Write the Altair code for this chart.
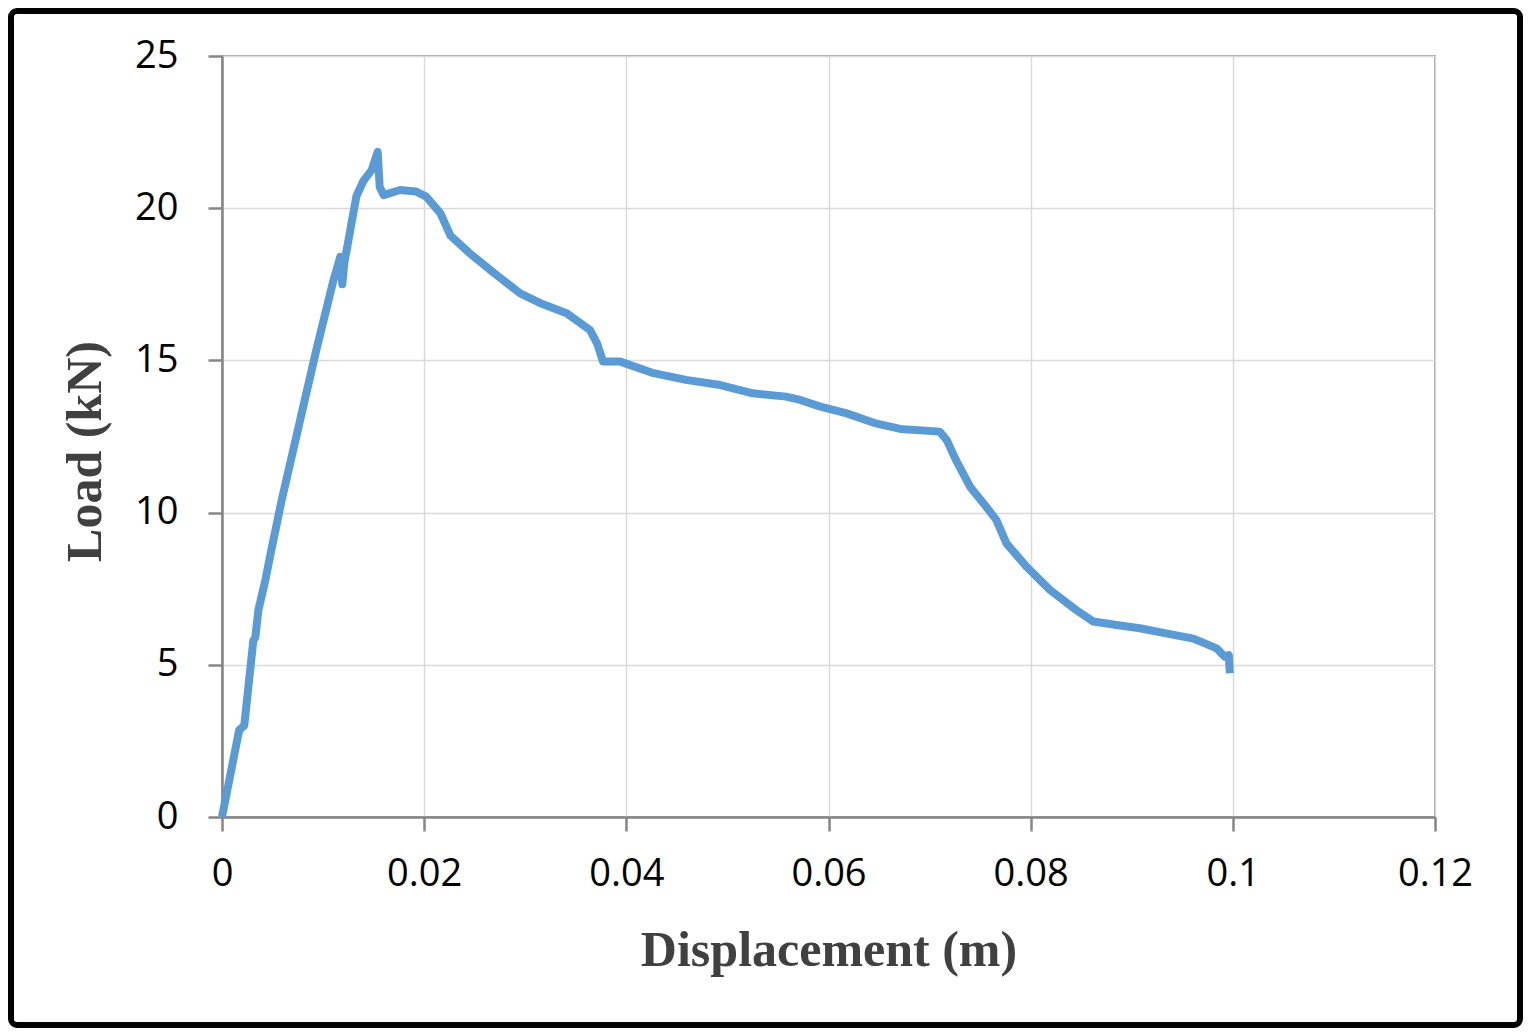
import altair as alt
import pandas as pd

displacement = [0, 0.0017, 0.0022, 0.0031, 0.0033, 0.0036, 0.0043, 0.0049, 0.0059,
                0.0077, 0.0093, 0.0110, 0.0117, 0.0119, 0.0121, 0.0133, 0.0140,
                0.0148, 0.0154, 0.0156, 0.0160, 0.0176, 0.0192, 0.0202, 0.0216,
                0.0226, 0.0245, 0.0268, 0.0295, 0.0315, 0.0341, 0.0364, 0.0371,
                0.0377, 0.0394, 0.0427, 0.0459, 0.0493, 0.0525, 0.0558, 0.0572,
                0.0592, 0.0618, 0.0647, 0.0671, 0.0710, 0.0717, 0.0726, 0.0740,
                0.0756, 0.0766, 0.0776, 0.0796, 0.0819, 0.0845, 0.0862, 0.0885,
                0.0908, 0.0934, 0.0961, 0.0984, 0.0992, 0.0996, 0.0997]
load = [0, 2.86, 3.0, 5.8, 5.9, 6.8, 7.8, 8.8, 10.4,
        13.0, 15.3, 17.6, 18.4, 17.5, 18.2, 20.4, 20.9,
        21.25, 21.85, 20.7, 20.43, 20.6, 20.55, 20.38, 19.84,
        19.1, 18.52, 17.9, 17.2, 16.88, 16.55, 16.0, 15.56,
        14.96, 14.96, 14.58, 14.36, 14.19, 13.92, 13.81, 13.7,
        13.48, 13.26, 12.93, 12.75, 12.66, 12.38, 11.73, 10.85,
        10.19, 9.76, 8.99, 8.22, 7.46, 6.8, 6.42, 6.31,
        6.2, 6.03, 5.86, 5.54, 5.27, 5.32, 4.72]

x_ticks = [0, 0.02, 0.04, 0.06, 0.08, 0.1, 0.12]
y_ticks = [0, 5, 10, 15, 20, 25]

df = pd.DataFrame({"d": displacement, "l": load, "i": list(range(len(load)))})

W, H = 1213, 761
PL, PT, PR, PB = 214, 48, 88, 211

line = alt.Chart(df).mark_line(color="#5B9BD5", strokeWidth=8, strokeCap="butt",
                               strokeJoin="round").encode(
    x=alt.X("d:Q", scale=alt.Scale(domain=[0, 0.12], nice=False, zero=False),
            axis=alt.Axis(values=x_ticks, format=".2~f", title="Displacement  (m)",
                          titleY=148, titleBaseline="alphabetic",
                          labelPadding=24, labelFlush=False)),
    y=alt.Y("l:Q", scale=alt.Scale(domain=[0, 25], nice=False),
            axis=alt.Axis(values=y_ticks, title="Load (kN)",
                          titleX=-122, titleY=395, titleBaseline="alphabetic",
                          titleAlign="center", titleAngle=-90,
                          labelPadding=30, labelFlush=False)),
    order="i:Q",
)

frame = alt.Chart(pd.DataFrame({"a": [1]})).mark_rect(
    filled=False, stroke="black", strokeWidth=6, cornerRadius=6
).encode(
    x=alt.value(-PL + 3), x2=alt.value(W + PR - 3),
    y=alt.value(-PT + 3), y2=alt.value(H + PB - 3),
)

chart = alt.layer(line, frame).properties(
    width=W, height=H,
    background="white",
    autosize=alt.AutoSizeParams(type="none"),
    padding={"left": PL, "top": PT, "right": PR, "bottom": PB},
).configure_view(
    stroke="#a6a6a6", strokeWidth=2
).configure_axis(
    labelFont="Open Sans", labelFontSize=38, labelColor="black",
    titleFont="Liberation Serif", titleFontWeight="bold", titleFontSize=50,
    titleColor="#404040",
    gridColor="#d9d9d9", gridWidth=1.5,
    domainColor="#868686", domainWidth=2.5,
    tickColor="#868686", tickWidth=2.5, tickSize=14,
)

chart.save("out.html", embed_options={"renderer": "svg", "actions": False})
